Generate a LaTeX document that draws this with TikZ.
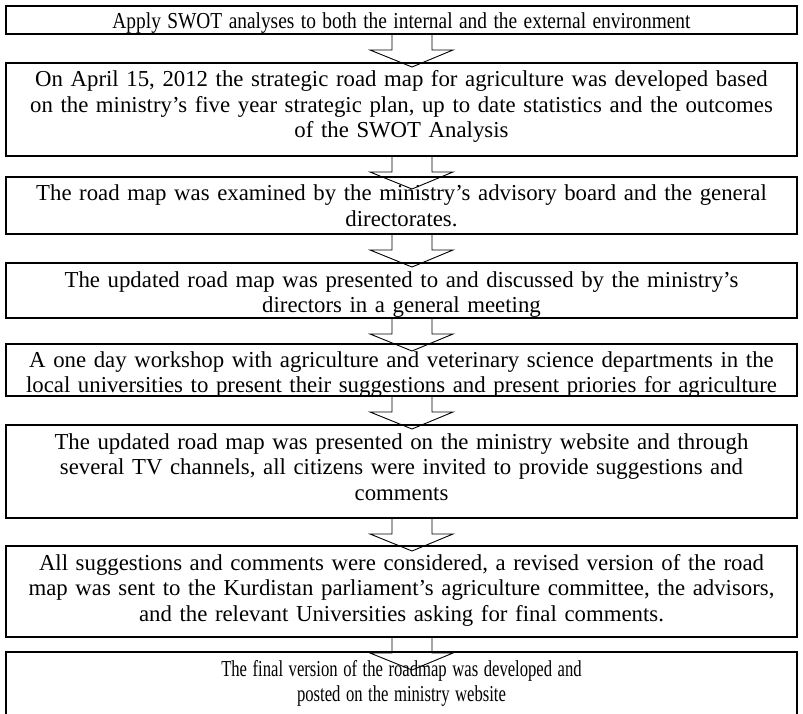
\documentclass[tikz,border=0pt]{standalone}
\usepackage{fontspec}
\usepackage{graphicx}
\setmainfont{Liberation Serif}
\usetikzlibrary{calc}
\pgfdeclarelayer{background}
\pgfsetlayers{background,main}

\tikzset{
  stepbox/.style={draw=black, line width=2.2pt, minimum width=791pt,
    inner sep=0pt, outer sep=0pt, anchor=north},
  steptext/.style={inner sep=0pt, text width=800pt, align=center,
    anchor=base, font=\fontsize{22.8pt}{25.5pt}\selectfont},
  flowarr/.style={draw=black, line width=0.9pt, fill=white, line join=miter},
}

% condensed lines of text (horizontal factor, lines)
\newcommand{\narrowlines}[2]{%
  \scalebox{#1}[1]{\begin{tabular}[t]{@{}c@{}}#2\end{tabular}}}

% hollow block arrow hanging below a box
\newcommand{\flowdown}[1]{%
  \begin{pgfonlayer}{background}
    \draw[flowarr] ($(#1.south)+(-9.5,0)$) -- ++(0,-16) -- ++(-22,0)
      -- ++(42,-17) -- ++(41,17) -- ++(-21,0) -- ++(0,16);
  \end{pgfonlayer}}

\begin{document}
\begin{tikzpicture}[x=1pt,y=1pt]
\useasboundingbox (0,0) rectangle (803,-714);
\clip (0,0) rectangle (803,-714);

% boxes
\node[stepbox, minimum height=28pt] (b1) at (401.5,-6) {};
\node[stepbox, minimum height=93pt] (b2) at (401.5,-63) {};
\node[stepbox, minimum height=57pt] (b3) at (401.5,-177) {};
\node[stepbox, minimum height=55pt] (b4) at (401.5,-263) {};
\node[stepbox, minimum height=52pt] (b5) at (401.5,-344) {};
\node[stepbox, minimum height=93pt] (b6) at (401.5,-425) {};
\node[stepbox, minimum height=91pt] (b7) at (401.5,-546) {};
\node[stepbox, minimum height=100pt] (b8) at (401.5,-652) {};

% texts
\node[steptext] (t1) at ($(b1.north)+(0,-22.5)$)
  {\narrowlines{0.85}{Apply SWOT analyses to both the internal and the external environment}};
\node[steptext] (t2) at ($(b2.north)+(0,-24)$)
  {On April 15, 2012 the strategic road map for agriculture was developed based\\
   on the ministry’s five year strategic plan, up to date statistics and the outcomes\\
   of the SWOT Analysis};
\node[steptext] (t3) at ($(b3.north)+(0,-24)$)
  {The road map was examined by the ministry’s advisory board and the general\\
   directorates.};
\node[steptext] (t4) at ($(b4.north)+(0,-24)$)
  {The updated road map was presented to and discussed by the ministry’s\\
   directors in a general meeting};
\node[steptext] (t5) at ($(b5.north)+(0,-23)$)
  {A one day workshop with agriculture and veterinary science departments in the\\
   local universities to present their suggestions and present priories for agriculture};
\node[steptext] (t6) at ($(b6.north)+(0,-24)$)
  {The updated road map was presented on the ministry website and through\\
   several TV channels, all citizens were invited to provide suggestions and\\
   comments};
\node[steptext] (t7) at ($(b7.north)+(0,-24)$)
  {All suggestions and comments were considered, a revised version of the road\\
   map was sent to the Kurdistan parliament’s agriculture committee, the advisors,\\
   and the relevant Universities asking for final comments.};
\node[steptext] (t8) at ($(b8.north)+(0,-24)$)
  {\narrowlines{0.73}{The final version of the roadmap was developed and\\
   posted on the ministry website}};

% arrows between the steps
\flowdown{b1}
\flowdown{b2}
\flowdown{b3}
\flowdown{b4}
\flowdown{b5}
\flowdown{b6}
\flowdown{b7}
\end{tikzpicture}
\end{document}
